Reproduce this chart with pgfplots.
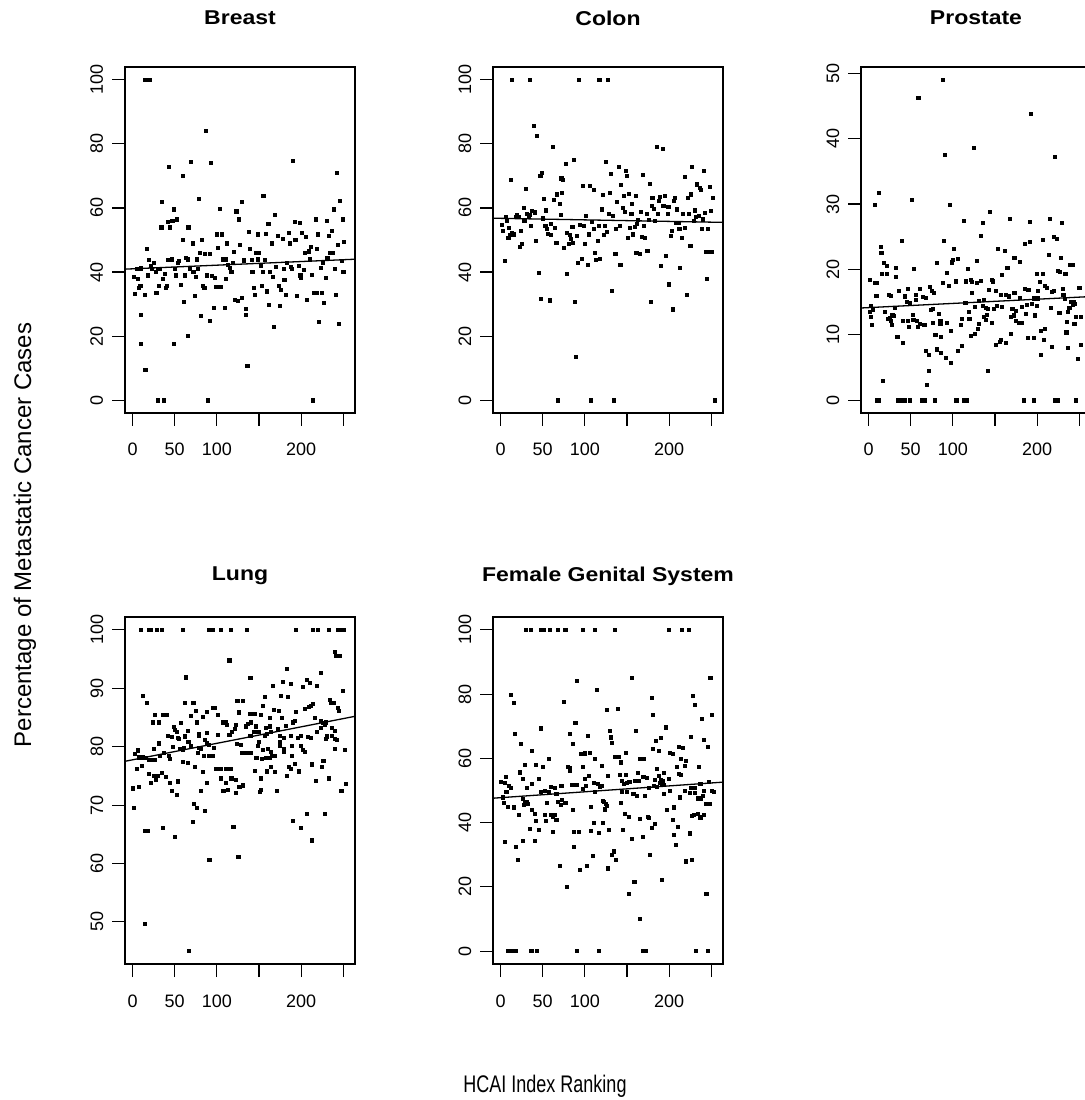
\documentclass[border=0pt]{standalone}
\usepackage{pgfplots}
\pgfplotsset{compat=1.18}
\usepackage{fontspec}
\setmainfont{Liberation Sans}
\usepackage{graphicx}

\pgfplotsset{
  rbase/.style={
    scale only axis, width=230pt, height=346pt,
    xmin=-9, xmax=264,
    axis line style={line width=1.4pt},
    xtick={0,50,100,150,200,250},
    xticklabels={0,50,100,,200,},
    tick align=outside, xtick pos=bottom, ytick pos=left,
    major tick length=13pt,
    tick style={line width=1.1pt, black},
    tick label style={font=\fontsize{18}{18}\selectfont},
    /pgf/number format/assume math mode=true,
    xticklabel style={anchor=base},
    xticklabel shift=30pt,
    yticklabel style={rotate=90, anchor=base},
    yticklabel shift=9pt,
    title style={at={(0.5,1)}, anchor=center, yshift=43pt, font=\bfseries\fontsize{20}{20}\selectfont},
    clip=false,
  },
  lowrow/.style={title style={yshift=-8pt}},
  pts/.style={only marks, mark=square*, mark size=1.55pt, black},
  reg/.style={no marks, black, line width=1.3pt},
}

\begin{document}
\begin{tikzpicture}
\path[use as bounding box] (0pt,0pt) rectangle (1084pt,1100pt);
%% Breast
\begin{axis}[rbase, at={(125pt,687pt)}, anchor=south west, ymin=-4, ymax=104, ytick={0,20,40,60,80,100},
  title={\scalebox{1.15}[1]{Breast}}]
\addplot[pts] coordinates {(15,100)(20,100)
(1,38.5)(2,33.3)(5,41)(6,38)(7,35)(9,35.7)(10,26.7)(10,17.7)(9,41)(10,41.4)(14,33)(15,9.4)(17,47.3)(18,39)(19,43.8)(21,42)(23,41)(25,43)(27,40)(28,33.6)(30,41)(30,0)(31,35.7)(32,41)(34,54)(35,62)(36,38)(37,0)(38,39.5)(39,35)(41,35.7)(42,43.8)(42,55.7)(43,73)(44,54)(46,44)(47,56)(49,59.6)(49,17.5)(50,41)(51,39)(52,56.5)(54,43)(55,43.5)(57,36)(59,50)(60,70)(61,30.8)(62,39)(63,44.5)(65,44)(65,20)(66,54)(68,41)(69,74.4)(71,49)(72,40)(74,32.5)(75,38.6)(76,44)(77,41)(79,63)(80,46)(81,26.5)(82,50)(83,35.6)(85,35)(86,45.6)(87,84)(88,39)(89,0)(91,45.6)(92,24.7)(93,74.2)(94,38.8)(96,29)(97,38.3)(99,35.4)(100,51.8)(101,47.7)(103,59.8)(104,35.4)(106,51.8)(107,44)(109,29)(110,44)(111,37.8)(112,49)(113,42.2)(115,41.4)(117,40)(119,42.8)(120,46.4)(121,31.5)(123,59)(125,31)(126,56.5)(127,48.4)(129,32)(130,62)(132,43.7)(134,26.7)(134,28.6)(136,10.7)(138,52.7)(139,47.3)(141,43.8)(142,40)(144,35)(145,32.8)(146,46)(148,51.8)(149,44)(150,46)(152,42)(153,35.7)(154,40)(155,63.8)(157,43.8)(158,52)(159,34)(161,55)(162,29.8)(163,40)(165,49)(166,38.6)(168,23)(169,58)(170,41.7)(172,51.3)(173,35.7)(175,29.4)(176,34.6)(178,50.5)(179,41)(180,37.6)(182,32.8)(183,42.8)(185,52.3)(186,49)(188,41.7)(189,41)(190,74.7)(192,55.7)(193,50)(195,32.6)(197,42)(198,55.3)(199,39)(200,38.3)(201,52.3)(203,40.7)(204,46)(206,51)(207,31.3)(209,46.5)(210,44)(211,48)(213,39.3)(214,0)(215,33.6)(217,56.5)(218,33.6)(219,47.3)(220,51.8)(221,24.5)(223,41.4)(225,33.6)(226,42.8)(227,30.3)(229,38.3)(230,56)(231,44.5)(233,51.3)(234,46)(236,53)(237,46)(239,59.6)(240,41)(241,32.8)(242,71)(243,48.5)(245,24)(246,62.4)(248,43.5)(249,56.5)(250,40)(251,49.4)};
\addplot[reg] coordinates {(-9,40.9) (264,44.0)};
\end{axis}
%% Colon
\begin{axis}[rbase, at={(493pt,687pt)}, anchor=south west, ymin=-4, ymax=104, ytick={0,20,40,60,80,100},
  title={\scalebox{1.15}[1]{Colon}}]
\addplot[pts] coordinates {(13,100)(35,100)(93,100)(117,100)(127,100)
(1,54.7)(2,52.9)(5,43.5)(6,57.2)(7,56)(9,50.8)(10,53.9)(11,51.6)(12,68.7)(13,52.3)(15,51.8)(16,51.8)(18,57.3)(19,57.9)(21,57.2)(23,48)(24,52.9)(25,48.9)(27,60.1)(28,56)(30,65.9)(31,58.3)(33,57.5)(34,57.9)(36,54.6)(37,59.1)(39,85.6)(40,58.9)(41,58.4)(42,49.7)(43,82.5)(45,39.9)(47,70.2)(48,31.8)(49,70.9)(50,56.8)(51,63)(53,54.4)(54,59.3)(55,53.4)(56,52.1)(58,31.2)(59,51.6)(60,55.2)(62,79.1)(63,62.7)(64,53.7)(66,49.2)(67,64.3)(68,0)(70,61.4)(71,57.9)(72,69.3)(73,64.8)(74,68.7)(75,47.7)(77,73.9)(78,52.3)(79,39.5)(81,48.9)(82,51.6)(83,50.4)(85,54.1)(86,49.1)(87,75.2)(88,30.7)(89,13.5)(90,51.3)(92,43)(94,54.9)(96,44.3)(97,66.9)(99,54.6)(100,48.9)(101,57.6)(103,42.2)(105,51.8)(106,67)(107,0)(108,55.7)(110,53.4)(111,65.6)(112,46)(113,43.8)(115,49.9)(116,54.4)(118,44.3)(120,59.6)(121,64.1)(122,51.6)(124,54.5)(125,74.4)(126,52.7)(128,58.1)(129,64.8)(131,70.8)(132,34.1)(133,57.5)(134,0)(136,45.6)(137,53.4)(138,62)(140,72.8)(141,54.4)(142,42.2)(143,67.2)(145,60.1)(146,63.7)(147,58.9)(148,71.6)(150,70)(151,50.6)(152,64.5)(153,53.7)(155,58.1)(156,61.2)(157,51.8)(159,54.1)(160,63.8)(161,45.9)(162,55.2)(163,56.2)(165,45.6)(166,58.9)(167,51)(169,70.3)(170,54.4)(171,50.8)(173,58.1)(174,46.6)(176,56.2)(177,67.6)(178,30.7)(179,60.7)(180,63.3)(182,59.9)(183,56)(185,79.1)(186,58.1)(188,62.4)(189,63.5)(190,41.9)(192,78.6)(193,60.7)(195,63.8)(196,45.1)(198,58.1)(199,60.4)(200,36.2)(202,51.3)(203,52.9)(204,28.4)(205,62.2)(207,63.3)(208,55.5)(209,59.6)(211,55.5)(212,53.4)(213,41.4)(215,50.8)(216,58.3)(218,69.7)(219,53.7)(221,32.9)(222,63.1)(223,58.1)(225,48.2)(226,64.3)(227,72.8)(229,56)(230,59.3)(232,57.2)(233,67.4)(235,57.5)(236,66.4)(237,65.6)(239,53.4)(240,56.5)(241,71.6)(242,58.4)(244,46.4)(245,37.8)(246,53.4)(248,66.6)(249,59.1)(250,46.4)(252,63.3)(254,0)};
\addplot[reg] coordinates {(-9,56.8) (264,55.5)};
\end{axis}
%% Prostate
\begin{axis}[rbase, at={(861pt,687pt)}, anchor=south west, ymin=-1.96, ymax=50.96, ytick={0,10,20,30,40,50},
  title={\scalebox{1.15}[1]{Prostate}}]
\addplot[pts] coordinates {
(87.6,49.0)(58.9,46.3)(90.8,37.6)(11.9,31.8)(7.2,29.9)(51,30.6)(96,29.9)(112.7,27.4)(39,24.4)(89.6,24.4)(14,23.5)(15,22.5)(101,23.1)(17.5,21)(22,20.6)(32,20.3)(99,21.1)(99.5,21.5)(105.5,21.6)(54,20.1)(81,21)(16,19.3)(21,19.3)(32,18.9)(118,20.1)(1,18.4)(7,18)(10,18)(93,19.5)(88,18)(95,17.5)(103,18.2)(115,18.2)(24,16.2)(26,16)(9,16)(36,16.8)(46,17.1)(61,17.1)(56,16.1)(56,15.4)(73,17.3)(75,16.8)(77,16.5)(64,15.8)(68,15.7)(43,15.9)(45,15)(49,14.9)(2,14.4)(1,13.5)(5,13.9)(2.4,12.7)(4,11.6)(19,13.5)(23,12.4)(26,12.2)(27,11.6)(28,13.1)(30,12.9)(25,12.6)(31,14.1)(41,12.2)(46,12.1)(48,11.2)(52,13.1)(53,12.3)(57,12.1)(58,11.2)(61,11.7)(66,11.6)(74,13.9)(76,14)(83,13.2)(85,12.2)(85,11.7)(76,11.8)(79,10)(86,9.7)(93,11.8)(97,10.6)(110,12.4)(109,11.6)(119,12.5)(121,9.9)(34,9.7)(41,8.8)(68,7.5)(71,6.9)(81,7.8)(86,7.2)(91,6.5)(97,5.8)(106,7.5)(111,8.4)(71,4.5)(69,2.4)(17,3)
(10,0)(12,0)(35,0)(38,0)(43,0)(49,0)(63,0)(66,0)(78,0)(103,0)(105,0)(113,0)(116,0)
(192.3,43.8)(124.3,38.6)(221,37.3)(144,28.8)(135.8,27.2)(167.6,27.7)(190.7,27.3)(214.6,27.7)(229.3,27.2)(132.6,25.2)(185.2,24)(191.1,24.2)(206.7,24.5)(219.8,25)(223,24.7)(153,23.1)(161.3,22.8)(127.8,21.3)(172.8,21.8)(179.6,21.2)(164.5,20.3)(117.9,20.1)(157.7,19.2)(214.2,22.2)(228.2,21.8)(224.6,19.8)(227,19.6)(239,20.7)(242,20.7)(199,19.4)(206.3,19.4)(233.3,19.4)(121,18.4)(122.7,18.1)(128.6,17.9)(132.6,18.3)(145.8,18.4)(147.3,18.2)(115.5,18.2)(203,18.1)(209.5,17.5)(211.4,17.2)(217.4,16.6)(220.2,16.8)(185.6,17)(189.5,16.9)(201,16.8)(230.2,17)(250,17.2)(142.6,16.9)(150.5,16.8)(122.7,16.5)(157,16.1)(162.5,16.1)(166.5,15.9)(172.8,16.5)(179.2,15.7)(130.6,15.2)(136.6,15.3)(196.3,15.6)(200.7,15.6)(231,16.1)(232.5,15.5)(243,15.1)(244.5,14.8)(114.7,14.9)(125.8,14.3)(135.4,14.4)(139.4,14.2)(141.8,14)(148.5,14)(152.5,14.5)(158.5,14.3)(170.4,14)(174.4,13.7)(181.6,14.3)(187.2,14.6)(193.5,14.8)(199.1,14.5)(216.2,14.1)(238.1,14.1)(242,14.6)(240.5,15)(118.7,13.5)(119.5,12.4)(136.6,12.8)(138.6,12.3)(130.6,11.7)(140.6,13.1)(169.2,12.7)(172.4,13)(174.8,12.2)(178.4,11.8)(181.6,11.8)(186.4,13.2)(197.5,13)(226.2,13.4)(236.1,13.5)(235,12)(244,11.7)(246,12.7)(252,12.8)(120.7,9.9)(125.8,10.2)(129.8,10.9)(146.5,11.8)(169.2,10.1)(151.3,8.5)(155.7,9)(157.3,9.3)(162.5,8.8)(189.1,9.5)(196.3,9.5)(204.3,10.6)(208.6,11)(207.9,9.3)(204.3,7)(217.8,8.2)(234.5,10.4)(236.5,8)(248.5,6.4)(252,8.5)(141.4,4.5)
(116,0)(184.4,0)(195.5,0)(221.4,0)(224.6,0)(246,0)};
\addplot[reg] coordinates {(-9,14.1) (264,15.85)};
\end{axis}
%% Lung
\begin{axis}[rbase, lowrow, at={(125pt,136pt)}, anchor=south west, height=347pt, ymin=42.8, ymax=102.2, ytick={50,60,70,80,90,100},
  title={\scalebox{1.15}[1]{Lung}}]
\addplot[pts] coordinates {
(9.5,100)(19.4,100)(21.4,100)(29,100)(34.5,100)(59,100)(90,100)(93,100)(95,100)(105,100)(116,100)
(114.7,94.8)(63,91.9)(11.5,88.8)(16.3,87.6)(61.5,87.6)(72,87.6)(124.6,87.9)(25.8,85.4)(35.3,85.5)(40.5,85.5)(23.8,84.2)(31.3,84.2)(94.8,86.6)(97.6,86.6)(69.4,85.3)(75,86.2)(83,85.2)(87.7,86)(101.2,85.5)(57,84.1)(65,82.8)(76.6,84.2)(107.5,84.2)(110.7,84.2)(111.5,83.8)(48.8,83.4)(50.4,82.9)(52,82.5)(41.7,81.9)(46,81.7)(30.6,80.6)(54,81.5)(55,81.4)(62,81.8)(66,80.9)(79,82.2)(79,81.9)(86,81.2)(87.7,82.4)(101,82.1)(114.7,82.1)(117.9,82.6)(121.4,83.1)(125.8,85.9)(122.6,83.8)(25,79.7)(48,80)(56.3,79.6)(60,79.5)(61.1,79.8)(69.4,80.1)(78,79.9)(81.3,79.6)(88,80.6)(90.8,80.4)(96.8,79.8)(2.8,78.8)(5.6,79.4)(7.5,78.2)(11.5,78.2)(15.5,78.1)(19.4,77.8)(23.4,77.8)(26.6,77.8)(32.1,78.5)(37.3,78.9)(42.5,78.5)(44,77.9)(60,77.5)(65.5,77.3)(77.4,78.9)(84,78.4)(90.8,78.4)(94.8,78.4)(4.4,76.2)(10.7,76.8)(19.4,75.4)(21,73.9)(24.6,75)(27.4,74.3)(29.8,75.1)(34.5,75.5)(39.3,74.9)(44.4,73.9)(53.2,74.1)(74.2,76.6)(83,75.7)(87.7,73.9)(98.8,76.3)(104,76.3)(110,76.3)(115.9,76.3)(104.8,74.6)(110,73.9)(117,74.6)(122.6,74.3)(0.4,72.9)(7.5,73.2)(46.4,72.5)(52,71.8)(81,72.5)(107.5,72.4)(112.7,72.6)(122.6,72.1)(125.8,73.2)(72.2,70.3)(75.8,69.6)(86,69.1)(0.8,69.6)(14.7,65.6)(17.9,65.6)(36,66.2)(49.6,64.6)(71,67.2)(119.4,66.3)(90.9,60.7)(125.4,61.2)(14.7,49.7)(66.3,45.1)
(135.7,100)(194,100)(213.9,100)(219.8,100)(232.5,100)(243.6,100)(246,100)(248.4,100)(250.8,100)
(239.6,96.2)(241.6,95.5)(246,95.5)(223,92.7)(182.9,93.4)(139.6,91.8)(166.2,90.5)(178.1,91.2)(187.3,90.8)(207.1,91.4)(209.9,91)(202.3,90.2)(219,90.5)(249.6,89.6)(176.2,88.8)(184.1,88.5)(156.3,88.5)(123.8,87.9)(130.5,87.9)(154.3,87)(234.1,88)(235.7,87.6)(238.9,87.6)(243.6,86.7)(244.4,86.2)(204.7,86.5)(208.7,86.9)(214.3,87.3)(211.1,87)(167.4,86.3)(173,86.2)(194,86)(138.9,85.7)(144.4,85.7)(152.3,85.4)(162.7,84.9)(177,85)(190.4,84.2)(192,84.5)(215.8,84.9)(223,84.5)(225.8,84.1)(229.3,84.2)(227.7,83.8)(134.5,83.5)(136.5,83.9)(140.4,84.2)(146.4,83.5)(149.2,82.6)(158.3,83.2)(163,83.5)(172.2,83)(181.7,83.6)(219,82.6)(223,83.3)(236.5,83.2)(239.6,82.8)(139.6,81.9)(144.4,82.5)(156.3,81.9)(159.5,82.2)(163.5,82.5)(174.2,81.9)(179.3,81.5)(187.3,81.9)(196,81.5)(199.2,81.9)(207.9,81.7)(230.1,81.8)(229.7,81.3)(236.5,81.9)(239.6,81.3)(242.8,81.2)(123.8,80.5)(128.5,80.4)(129.3,78.9)(132.5,79)(135.3,79)(140.4,79)(149.2,80.9)(148.4,80.1)(154.7,79.5)(160.3,79.6)(164.3,79.2)(167.4,78.5)(174.2,80.8)(174.2,80.2)(179.3,79.6)(179.3,79.2)(188.9,80.1)(188.9,78.4)(199.2,80.2)(202.3,79.5)(204,79.1)(211.9,81.5)(239.6,79.6)(251.6,79.5)(145.6,78.1)(147.6,78.1)(153.1,78)(157.5,78.1)(162.3,78.1)(165.4,78.4)(169,78.4)(184.9,76.6)(187.3,76.2)(192.8,77.1)(145.2,75.9)(152.3,74.6)(159.5,75.8)(163.5,76.5)(169,75.7)(182.9,75)(197.2,75.8)(212.7,77)(224.6,76.6)(226.2,77.6)(217.8,74.2)(232.9,74.6)(150.8,72.3)(151.6,72.6)(170.6,72.4)(126.6,73.2)(130.5,73.4)(122.6,72.1)(252.7,73.7)(247.6,72.5)(190,67.4)(206.3,68.6)(227.7,68.6)(200,66.2)(212.7,64)};
\addplot[reg] coordinates {(-9,77.5) (264,85.2)};
\end{axis}
%% Female Genital System
\begin{axis}[rbase, lowrow, at={(493pt,136pt)}, anchor=south west, height=347pt, ymin=-4, ymax=104, ytick={0,20,40,60,80,100},
  title={\scalebox{1.15}[1]{Female Genital System}}]
\addplot[pts] coordinates {
(30.2,100)(35.4,100)(48.1,100)(50.9,100)(58,100)(68,100)(76.7,100)(97.8,100)(111.7,100)
(8.3,0)(10.3,0)(13.1,0)(18.3,0)(35.4,0)(37.4,0)(43.3,0)(90.6,0)(116.9,0)
(90.6,84.2)(114,81.5)(75.1,77.7)(125.6,75.1)(12.3,79.8)(15.1,77.2)(88.6,71.1)(47.3,69.4)(17.1,67.6)(81.9,67.6)(103.7,67.1)(23.8,64.5)(85.5,64.5)(37.4,62.4)(56.8,59.9)(95,61.4)(99.8,61.6)(105.7,61.9)(111.7,59.9)(79.9,57.5)(81.9,57)(81.9,56.2)(28.2,58)(22.3,55.7)(42.1,58)(50.1,57.3)(97,57.3)(120.4,57.8)(6.4,54.4)(26.2,53.6)(44.9,53.6)(99.8,53.6)(104.5,54.5)(126.8,54.5)(0.4,52.8)(4.4,52.3)(9.1,51.6)(11.5,51)(6.7,49.7)(31.4,51)(37.4,52.1)(48.1,49.7)(52.1,49.8)(56.8,49.7)(59.2,51.2)(64,51)(66,49)(71.9,51.6)(83.9,51.9)(89.8,51.9)(97.8,50.5)(100.6,51.6)(110.1,52.4)(114.9,52.1)(117.6,51.3)(120.4,51.6)(2,47.9)(3.6,46.1)(8.3,45)(15.5,44.8)(25.8,47.4)(27,45.5)(29,46.1)(31.4,46.4)(32.2,45.9)(37.4,44)(40.1,42.7)(42.1,40.5)(52.1,42.5)(55.2,46.1)(54,40.5)(60,42.4)(62,42)(64,42.5)(66,41)(68,46.4)(71.1,45.6)(72.7,47.1)(76.7,46.2)(85.9,44.1)(106.9,45)(111.7,49.5)(121.6,46.9)(123.6,44)(125.6,45.3)(21.1,42.5)(34.2,38.1)(45.3,37.9)(62,37.2)(110.1,39.9)(116.5,36.8)(121.6,39.9)(87,37.2)(92.6,37.2)(106.9,37.6)(5.2,34.1)(25.8,34.4)(40.1,34.4)(17.5,32.6)(20.3,28.4)(87,32.4)(109.7,29.6)(70.3,26.7)(94.2,25.4)(102.5,26.7)(126.8,25.9)(78.7,20.1)
(135.5,100)(199.1,100)(215,100)(223,100)
(168.5,0)(171.7,0)(232.1,0)(245.6,0)
(155.4,85)(248.8,85.1)(179.2,78.8)(228.1,79.4)(230.9,76.7)(125.6,75.1)(139.5,75.4)(180.4,73.7)(238.9,72.3)(250.8,73.7)(195.5,69.7)(160.5,68.5)(129.6,68.5)(130.3,66.6)(131.5,65)(190.4,66.4)(184.4,65.4)(225.7,66.8)(240.8,65.8)(245.6,63.7)(180.4,63)(187.2,62.4)(148.6,61.9)(135.5,60.4)(140.7,60.6)(142.3,58.8)(165.3,59.9)(170.1,59.9)(201.1,61.9)(204.3,61.4)(211,63.7)(216.2,63.2)(213.8,59.9)(219.4,59.3)(218.6,57.8)(234.9,57.3)(185.2,56.7)(187.2,54.5)(193.9,55.4)(199.1,53.6)(209,57.3)(211,55.2)(213.8,54.9)(127.2,54.5)(141.5,54.9)(148.6,55)(162.5,55.4)(169.3,54.4)(173.3,53.9)(183.2,53.3)(190,53.4)(192.4,52.9)(193.9,51.9)(143.5,53.1)(146.2,52.1)(150.2,52.3)(152.6,52.6)(159.4,53.1)(161.3,53.1)(163.7,53.1)(182,51.6)(189.2,52.3)(191.2,51.8)(225.7,51)(230.9,50.8)(236.9,52.1)(247.2,52.6)(143.5,49.5)(150.2,49.5)(157.4,49)(161.3,48.4)(171.3,48.4)(175.3,51)(185.2,51.2)(193.9,49)(201.1,50)(219,50)(224.1,49.2)(230.9,49.2)(240.8,50)(240,48.4)(250.8,49.8)(252.8,49.7)(122.4,46.4)(124.8,45.9)(123.6,44.3)(142.3,46.2)(233.7,47.6)(236.9,47.6)(244,45.9)(248,45.9)(197.1,44)(205.9,44.8)(212.2,47.9)(147.4,42.7)(152.2,41.9)(165.3,41.2)(174.1,41.9)(176.1,41.5)(183.2,39.8)(203.9,40.9)(209.8,38.8)(224.1,36.7)(226.9,42.2)(229.7,42.5)(234.1,42.7)(236.9,41.7)(240.8,42.5)(128.4,37.8)(145.4,37.9)(155.4,35)(168.5,35.5)(179.6,38.4)(205.9,36.2)(207.5,33.2)(132.3,30.1)(134.3,31.1)(136.7,28.4)(126.8,25.8)(177.2,30.1)(220.2,28)(226.9,28.4)(158.6,21.5)(152.2,17.8)(191.2,22.3)(244,17.8)(165.3,10.1)};
\addplot[reg] coordinates {(-9,47.6) (264,52.6)};
\end{axis}
\node[rotate=90, font=\fontsize{24}{24}\selectfont] at (25pt,565pt) {Percentage of Metastatic Cancer Cases};
\node[font=\fontsize{24}{24}\selectfont] at (545pt,14pt) {\scalebox{0.75}[1]{HCAI Index Ranking}};
\end{tikzpicture}
\end{document}
